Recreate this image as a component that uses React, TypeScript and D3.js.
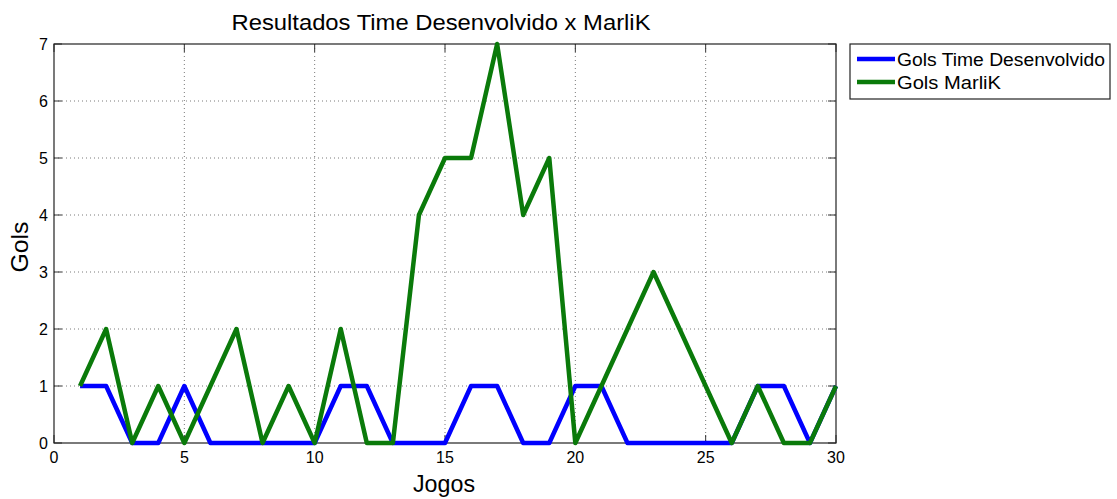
import React from "react";
import * as d3 from "d3";

const jogos = d3.range(1, 31);
const golsTime = [1, 1, 0, 0, 1, 0, 0, 0, 0, 0, 1, 1, 0, 0, 0, 1, 1, 0, 0, 1, 1, 0, 0, 0, 0, 0, 1, 1, 0, 1];
const golsMarlik = [1, 2, 0, 1, 0, 1, 2, 0, 1, 0, 2, 0, 0, 4, 5, 5, 7, 4, 5, 0, 1, 2, 3, 2, 1, 0, 1, 0, 0, 1];
const xTicks = [0, 5, 10, 15, 20, 25, 30];
const yTicks = [0, 1, 2, 3, 4, 5, 6, 7];
const seriesNames = ["Gols Time Desenvolvido", "Gols MarliK"];
const seriesColors = ["#0000ff", "#0a7a0a"];

const W = 1117;
const H = 499;
const L = 54, R = 836, T = 44, B = 443;

export default function App() {
  const x = d3.scaleLinear().domain([0, 30]).range([L, R]);
  const y = d3.scaleLinear().domain([0, 7]).range([B, T]);
  const line = d3
    .line<number>()
    .x((_, i) => x(jogos[i]))
    .y((d) => y(d));
  const series = [golsTime, golsMarlik];
  const font = "'Liberation Sans', Arial, Helvetica, sans-serif";
  const tickLen = 8;

  return (
    <svg
      width={W}
      height={H}
      style={{ position: "absolute", left: 0, top: 0, background: "#fff" }}
      fontFamily={font}
    >
      <rect x={0} y={0} width={W} height={H} fill="#fff" />
      <rect x={L} y={T} width={R - L} height={B - T} fill="#fff" />
      {/* grid */}
      {xTicks.slice(1, -1).map((t) => (
        <line key={"gx" + t} x1={x(t)} x2={x(t)} y1={T} y2={B} stroke="#7a7a7a" strokeWidth={1} strokeDasharray="1 3" />
      ))}
      {yTicks.slice(1, -1).map((t) => (
        <line key={"gy" + t} x1={L} x2={R} y1={y(t)} y2={y(t)} stroke="#7a7a7a" strokeWidth={1} strokeDasharray="1 3" />
      ))}
      {/* ticks */}
      {xTicks.map((t) => (
        <g key={"tx" + t}>
          <line x1={x(t)} x2={x(t)} y1={B} y2={B - tickLen} stroke="#333" />
          <line x1={x(t)} x2={x(t)} y1={T} y2={T + tickLen} stroke="#333" />
          <text x={x(t)} y={B + 20} textAnchor="middle" fontSize={16} fill="#000">
            {t}
          </text>
        </g>
      ))}
      {yTicks.map((t) => (
        <g key={"ty" + t}>
          <line x1={L} x2={L + tickLen} y1={y(t)} y2={y(t)} stroke="#333" />
          <line x1={R} x2={R - tickLen} y1={y(t)} y2={y(t)} stroke="#333" />
          <text x={L - 6} y={y(t) + 6} textAnchor="end" fontSize={16} fill="#000">
            {t}
          </text>
        </g>
      ))}
      {/* axes box */}
      <rect x={L} y={T} width={R - L} height={B - T} fill="none" stroke="#222" strokeWidth={1.2} />
      {/* lines */}
      {series.map((s, i) => (
        <path
          key={"s" + i}
          d={line(s) || ""}
          fill="none"
          stroke={seriesColors[i]}
          strokeWidth={4.5}
          strokeLinejoin="round"
        />
      ))}
      {/* title & labels */}
      <text x={441} y={30} textAnchor="middle" fontSize={21.5} textLength={419} lengthAdjust="spacingAndGlyphs" fill="#000">
        Resultados Time Desenvolvido x MarliK
      </text>
      <text x={444} y={492} textAnchor="middle" fontSize={23} textLength={62} lengthAdjust="spacingAndGlyphs" fill="#000">
        Jogos
      </text>
      <text
        transform={`translate(28, 247) rotate(-90)`}
        textAnchor="middle"
        fontSize={24}
        textLength={51}
        lengthAdjust="spacingAndGlyphs"
        fill="#000"
      >
        Gols
      </text>
      {/* legend */}
      <rect x={850} y={44} width={260} height={55} fill="#fff" stroke="#222" strokeWidth={1.2} />
      {seriesNames.map((n, i) => (
        <g key={"lg" + i}>
          <line x1={857} x2={895} y1={59 + i * 23} y2={59 + i * 23} stroke={seriesColors[i]} strokeWidth={4.5} />
          <text
            x={897}
            y={65.5 + i * 23}
            fontSize={17.5}
            fill="#000"
            textLength={i === 0 ? 208 : 104}
            lengthAdjust="spacingAndGlyphs"
          >
            {n}
          </text>
        </g>
      ))}
    </svg>
  );
}
